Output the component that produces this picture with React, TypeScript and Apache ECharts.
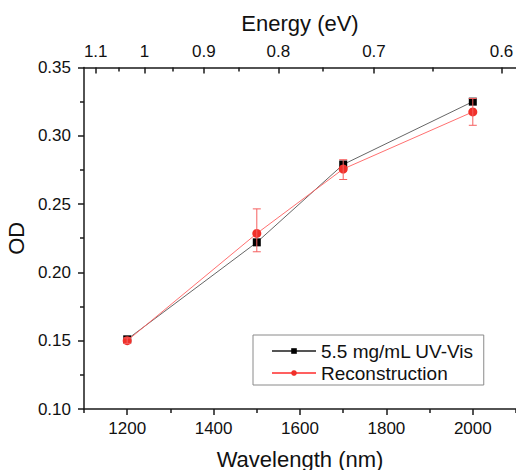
import React, { useEffect, useRef } from "react";
import * as echarts from "echarts";

const wavelengths = [1200, 1500, 1700, 2000];
const uvVis = [0.151, 0.222, 0.279, 0.325];
const recon = [0.15, 0.2285, 0.2757, 0.3175];
const reconErrMinus = [0.002, 0.0134, 0.0077, 0.0098];
const reconErrPlus = [0.002, 0.018, 0.0068, 0.0098];

const wlMajorTicks = [1200, 1400, 1600, 1800, 2000];
const wlMinorTicks = [1100, 1300, 1500, 1700, 1900, 2100];
const energyMajorTicks = [1.1, 1, 0.9, 0.8, 0.7, 0.6];
const energyMinorTicks = [1.05, 0.95, 0.85, 0.75, 0.65];
const HC = 1239.84;

const FONT = "'Liberation Sans', Arial, sans-serif";

export default function App() {
  const ref = useRef<HTMLDivElement>(null);
  useEffect(() => {
    if (!ref.current) return;
    const chart = echarts.init(ref.current, undefined, { renderer: "svg" });
    const axisLine = { show: true, lineStyle: { color: "#1a1a1a", width: 1.5 } };
    const xBase = { type: "value", min: 1100, max: 2100, splitLine: { show: false }, gridIndex: 0 };
    chart.setOption({
      animation: false,
      backgroundColor: "#fff",
      textStyle: { fontFamily: FONT },
      grid: { left: 84, right: 0, top: 67.5, bottom: 61, containLabel: false, outerBoundsMode: "none" },
      legend: {
        left: 253,
        top: 335,
        orient: "vertical",
        itemWidth: 44,
        itemHeight: 7,
        itemGap: 0,
        padding: [5, 10, 1, 18],
        borderColor: "#8a8a8a",
        borderWidth: 1,
        backgroundColor: "#fff",
        textStyle: { fontSize: 19, lineHeight: 22, color: "#111", fontFamily: FONT },
        data: ["5.5 mg/mL UV-Vis", "Reconstruction"],
      },
      xAxis: [
        {
          ...xBase,
          position: "bottom",
          name: "Wavelength (nm)",
          nameLocation: "middle",
          nameGap: 39,
          nameTextStyle: { fontSize: 22, color: "#111", fontFamily: FONT },
          axisLine,
          axisTick: { show: true, inside: false, length: 6, customValues: wlMajorTicks, lineStyle: { color: "#1a1a1a", width: 1.5 } },
          axisLabel: {
            show: true,
            customValues: wlMajorTicks,
            formatter: (v: number) => String(v),
            fontSize: 17,
            color: "#111",
            margin: 11,
            fontFamily: FONT,
          },
        },
        {
          ...xBase,
          position: "top",
          name: "Energy (eV)",
          nameLocation: "middle",
          nameGap: 33,
          nameTextStyle: { fontSize: 22, color: "#111", fontFamily: FONT },
          axisLine,
          axisTick: {
            show: true,
            inside: true,
            length: 6,
            customValues: energyMajorTicks.map((e) => HC / e),
            lineStyle: { color: "#1a1a1a", width: 1.5 },
          },
          axisLabel: {
            show: true,
            customValues: energyMajorTicks.map((e) => HC / e),
            formatter: (v: number) => String(Math.round((HC / v) * 100) / 100),
            fontSize: 17,
            color: "#111",
            margin: 8,
            fontFamily: FONT,
          },
        },
        {
          ...xBase,
          position: "bottom",
          axisLine: { show: false },
          axisTick: { show: true, inside: false, length: 4, customValues: wlMinorTicks, lineStyle: { color: "#1a1a1a", width: 1.5 } },
          axisLabel: { show: false },
        },
        {
          ...xBase,
          position: "top",
          axisLine: { show: false },
          axisTick: {
            show: true,
            inside: true,
            length: 4,
            customValues: energyMinorTicks.map((e) => HC / e),
            lineStyle: { color: "#1a1a1a", width: 1.5 },
          },
          axisLabel: { show: false },
        },
      ],
      yAxis: {
        type: "value",
        min: 0.1,
        max: 0.35,
        interval: 0.05,
        name: "OD",
        nameLocation: "middle",
        nameGap: 52,
        nameTextStyle: { fontSize: 22, color: "#111", fontFamily: FONT },
        splitLine: { show: false },
        axisLine,
        axisTick: { show: true, inside: false, length: 6, lineStyle: { color: "#1a1a1a", width: 1.5 } },
        minorTick: { show: true, splitNumber: 2, length: 4, lineStyle: { color: "#1a1a1a", width: 1.5 } },
        axisLabel: {
          fontSize: 17,
          color: "#111",
          margin: 13,
          fontFamily: FONT,
          formatter: (v: number) => v.toFixed(2),
        },
      },
      series: [
        {
          name: "5.5 mg/mL UV-Vis",
          type: "line",
          xAxisIndex: 0,
          data: wavelengths.map((w, i) => [w, uvVis[i]]),
          symbol: "rect",
          symbolSize: 8,
          lineStyle: { color: "#555", width: 0.9 },
          itemStyle: { color: "#000" },
          z: 2,
        },
        {
          name: "Reconstruction",
          type: "line",
          xAxisIndex: 0,
          data: wavelengths.map((w, i) => [w, recon[i]]),
          symbol: "circle",
          symbolSize: 9,
          lineStyle: { color: "#ff6060", width: 0.9 },
          itemStyle: { color: "#f0302a" },
          z: 3,
        },
        {
          name: "Reconstruction error",
          type: "custom",
          xAxisIndex: 0,
          z: 4,
          data: wavelengths.map((w, i) => [w, recon[i] - reconErrMinus[i], recon[i] + reconErrPlus[i]]),
          renderItem: (params: any, api: any) => {
            const x = api.value(0);
            const lo = api.coord([x, api.value(1)]);
            const hi = api.coord([x, api.value(2)]);
            const half = 4;
            const style = { stroke: "#f56060", lineWidth: 1 };
            return {
              type: "group",
              children: [
                { type: "line", shape: { x1: lo[0], y1: lo[1], x2: hi[0], y2: hi[1] }, style },
                { type: "line", shape: { x1: lo[0] - half, y1: lo[1], x2: lo[0] + half, y2: lo[1] }, style },
                { type: "line", shape: { x1: hi[0] - half, y1: hi[1], x2: hi[0] + half, y2: hi[1] }, style },
              ],
            };
          },
        },
      ],
    });
    return () => chart.dispose();
  }, []);
  return <div ref={ref} style={{ position: "fixed", left: 0, top: 0, width: 516, height: 470 }} />;
}
